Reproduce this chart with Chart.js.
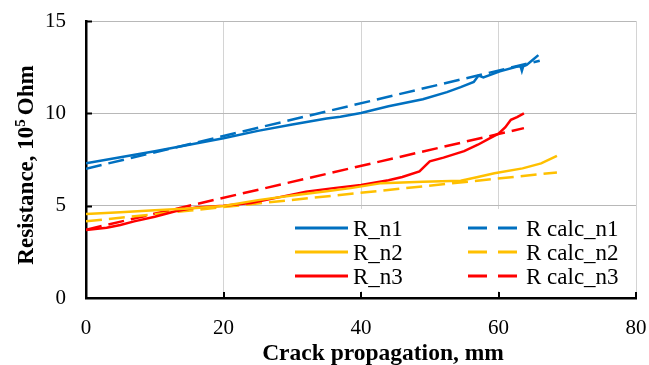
<!DOCTYPE html>
<html>
<head>
<meta charset="utf-8">
<script src="https://cdn.jsdelivr.net/npm/chart.js@4/dist/chart.umd.min.js"></script>
<style>
  html, body { margin: 0; padding: 0; background: #fff; }
  #wrap { width: 649px; height: 365px; }
</style>
</head>
<body>
<div id="wrap"><canvas id="resChart" width="649" height="365"></canvas></div>
<script>
// Measured resistance (10^5 Ohm) against crack length (mm), three samples
const crackN1 = [0, 5, 10, 15, 20, 25, 30, 35, 37, 40, 44, 49, 52.5, 54.5, 56.4, 57.1, 57.8, 60.2, 62.6, 63.2, 63.4, 63.6, 64.1, 65, 65.8];
const resN1   = [7.3, 7.62, 7.95, 8.3, 8.65, 9.05, 9.4, 9.72, 9.82, 10.02, 10.38, 10.76, 11.15, 11.42, 11.7, 12.05, 11.95, 12.27, 12.52, 12.55, 12.3, 12.55, 12.62, 12.9, 13.15];

const crackN2 = [0, 5, 10, 15, 20, 25, 30, 35, 38.5, 43, 49, 54.5, 57, 59.4, 63.5, 66.2, 68.5];
const resN2   = [4.55, 4.65, 4.75, 4.85, 4.98, 5.3, 5.55, 5.78, 5.95, 6.22, 6.3, 6.35, 6.55, 6.75, 7.02, 7.29, 7.7];

const crackN3 = [0, 3, 5, 7, 10, 13, 16, 20, 24, 28, 32, 36, 40, 44, 46, 48.5, 50, 52, 55, 57, 58.5, 60, 61, 61.8, 62.7, 63.7];
const resN3   = [3.68, 3.8, 3.95, 4.15, 4.4, 4.7, 4.9, 5.0, 5.15, 5.45, 5.75, 5.95, 6.12, 6.38, 6.55, 6.85, 7.4, 7.6, 7.95, 8.3, 8.6, 8.9, 9.25, 9.65, 9.8, 10.0];

// Calculated (linear) resistance, end points of each fit
const calcCrackN1 = [0, 66];
const calcResN1   = [7.0, 12.85];
const calcCrackN2 = [0, 68.5];
const calcResN2   = [4.15, 6.8];
const calcCrackN3 = [0, 63.7];
const calcResN3   = [3.7, 9.2];

const xTicks = [0, 20, 40, 60, 80];
const yTicks = [0, 5, 10, 15];

const seriesNames = ['R_n1', 'R_n2', 'R_n3', 'R calc_n1', 'R calc_n2', 'R calc_n3'];
const seriesColors = ['#0070C0', '#FFC000', '#FF0000'];

const SERIF = "'Liberation Serif', 'Times New Roman', serif";

function toPoints(xs, ys) {
    return xs.map((x, i) => ({ x: x, y: ys[i] }));
}

function makeSet(idx, xs, ys, dashed) {
    return {
        label: seriesNames[idx],
        data: toPoints(xs, ys),
        borderColor: seriesColors[idx % 3],
        borderWidth: 2.5,
        borderDash: dashed ? [16, 7] : [],
        pointRadius: 0,
        tension: 0,
        fill: false
    };
}

// no extra room for half tick labels, the layout padding places the plot
function noOverflow(s) {
    s.paddingTop = 0;
    s.paddingBottom = 0;
    s.paddingLeft = 0;
    s.paddingRight = 0;
}

// legend box, inward tick marks and axis titles drawn on top of the plot
const excelFrame = {
    id: 'excelFrame',
    afterDraw(chart) {
        const { ctx, chartArea, scales } = chart;
        const xs = scales.x, ys = scales.y;
        ctx.save();

        // legend
        ctx.fillStyle = '#fff';
        ctx.fillRect(282, 209, chartArea.right - 283, 82);
        const rows = [228, 252, 276];
        const cols = [{ x0: 295, x1: 348, tx: 353 }, { x0: 468, x1: 520, tx: 526 }];
        ctx.font = '23px ' + SERIF;
        ctx.textBaseline = 'alphabetic';
        ctx.textAlign = 'left';
        chart.data.datasets.forEach((ds, i) => {
            const c = cols[i < 3 ? 0 : 1];
            const y = rows[i % 3];
            ctx.beginPath();
            ctx.strokeStyle = ds.borderColor;
            ctx.lineWidth = 3;
            ctx.setLineDash(i < 3 ? [] : [19, 11]);
            ctx.moveTo(c.x0, y);
            ctx.lineTo(c.x1, y);
            ctx.stroke();
            ctx.setLineDash([]);
            ctx.fillStyle = '#000';
            ctx.fillText(ds.label, c.tx, y + 8);
        });

        // inward tick marks
        ctx.strokeStyle = '#000';
        ctx.lineWidth = 2;
        yTicks.slice(1).forEach(v => {
            const py = Math.round(ys.getPixelForValue(v)) + 0.5;
            ctx.beginPath();
            ctx.moveTo(chartArea.left, py);
            ctx.lineTo(chartArea.left + 6, py);
            ctx.stroke();
        });
        xTicks.slice(1).forEach(v => {
            const px = Math.round(xs.getPixelForValue(v));
            ctx.beginPath();
            ctx.moveTo(px, chartArea.bottom);
            ctx.lineTo(px, chartArea.bottom - 6);
            ctx.stroke();
        });

        // axis titles
        ctx.fillStyle = '#000';
        ctx.font = 'bold 23.5px ' + SERIF;
        ctx.textAlign = 'center';
        ctx.fillText('Crack propagation, mm', 383, 360);

        const main = 'Resistance, 10';
        const tail = 'Ohm';
        ctx.font = 'bold 23px ' + SERIF;
        const wMain = ctx.measureText(main).width;
        const wTail = ctx.measureText(tail).width;
        ctx.font = 'bold 15px ' + SERIF;
        const wSup = ctx.measureText('5').width;
        const gap = 4;
        const total = wMain + wSup + gap + wTail;
        ctx.translate(33, 165);
        ctx.rotate(-Math.PI / 2);
        ctx.textAlign = 'left';
        let x = -total / 2;
        ctx.font = 'bold 23px ' + SERIF;
        ctx.fillText(main, x, 0);
        x += wMain;
        ctx.font = 'bold 15px ' + SERIF;
        ctx.fillText('5', x, -8);
        x += wSup + gap;
        ctx.font = 'bold 23px ' + SERIF;
        ctx.fillText(tail, x, 0);

        ctx.restore();
    }
};

new Chart(document.getElementById('resChart'), {
    type: 'line',
    data: {
        datasets: [
            makeSet(0, crackN1, resN1, false),
            makeSet(1, crackN2, resN2, false),
            makeSet(2, crackN3, resN3, false),
            makeSet(3, calcCrackN1, calcResN1, true),
            makeSet(4, calcCrackN2, calcResN2, true),
            makeSet(5, calcCrackN3, calcResN3, true)
        ]
    },
    options: {
        responsive: false,
        animation: false,
        layout: { padding: { top: 21, right: 13, left: 0, bottom: 0 } },
        plugins: {
            legend: { display: false },
            tooltip: { enabled: false }
        },
        scales: {
            x: {
                type: 'linear',
                min: xTicks[0],
                max: xTicks[xTicks.length - 1],
                afterBuildTicks: s => { s.ticks = xTicks.map(v => ({ value: v })); },
                afterFit: s => { s.height = 67; noOverflow(s); },
                grid: { color: '#D4D4D4', lineWidth: 1, drawTicks: false },
                border: { color: '#000', width: 2.5 },
                ticks: { padding: 18, color: '#000', font: { family: SERIF, size: 21 } }
            },
            y: {
                type: 'linear',
                min: yTicks[0],
                max: yTicks[yTicks.length - 1],
                afterBuildTicks: s => { s.ticks = yTicks.map(v => ({ value: v })); },
                afterFit: s => { s.width = 86; noOverflow(s); },
                grid: { color: '#B8B8B8', lineWidth: 1, drawTicks: false },
                border: { color: '#000', width: 2.5 },
                ticks: { padding: 20, color: '#000', font: { family: SERIF, size: 21 } }
            }
        }
    },
    plugins: [excelFrame]
});
</script>
</body>
</html>
